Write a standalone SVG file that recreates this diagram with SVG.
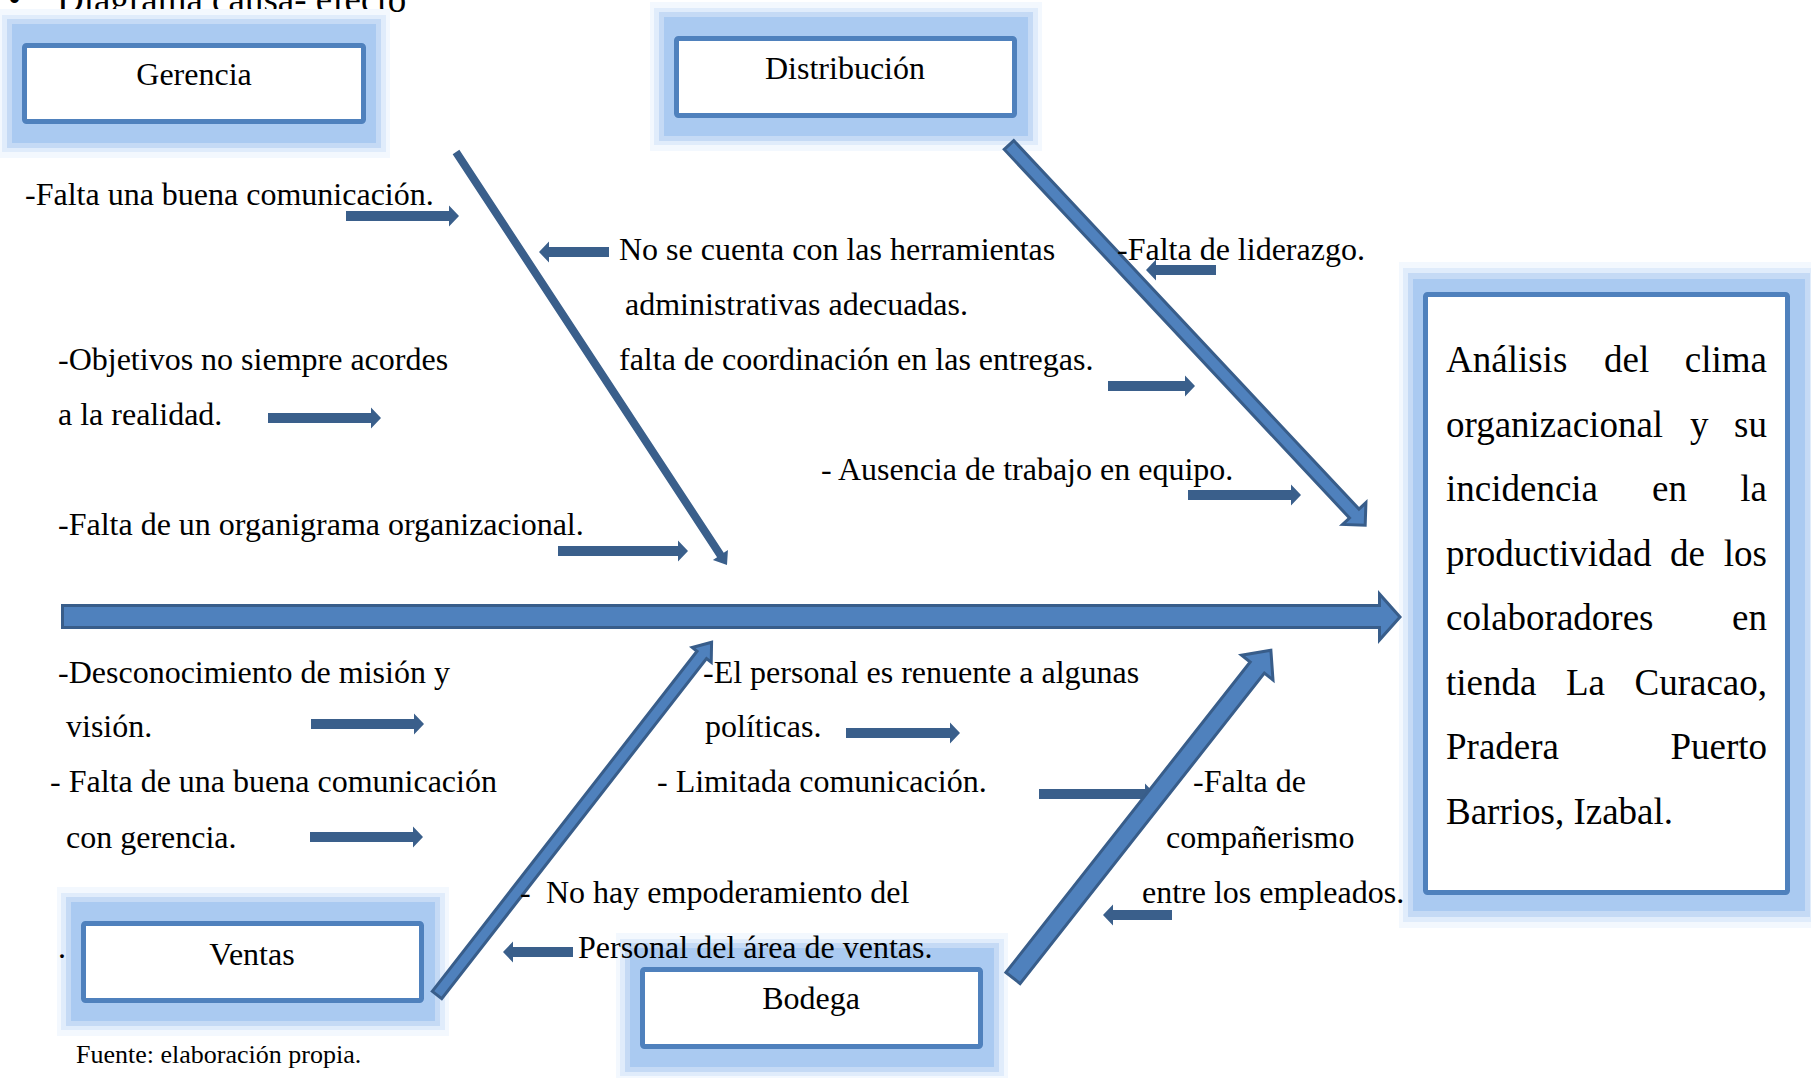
<svg xmlns="http://www.w3.org/2000/svg" width="1811" height="1078" viewBox="0 0 1811 1078">
<style>
  text { font-family: "Liberation Serif", "Times New Roman", serif; fill: #000; }
  .lbl { font-size: 32px; }
  .big { font-size: 37px; }
  .src { font-size: 26px; }
  .g1 { fill: #F3F8FE; }
  .g2 { fill: #E0ECFB; }
  .g3 { fill: #C5DAF5; }
  .g4 { fill: #AACAF1; }
  .box { fill: #FFFFFF; stroke: #4F81BD; stroke-width: 5; }
  .sa { fill: #3A5F8B; }
  .br { fill: #4F81BD; stroke: #385D8A; stroke-width: 3; stroke-linejoin: miter; }
  .thin { fill: #3A5F8B; }
</style>

<!-- title -->
<text class="big" x="8" y="12">•</text>
<text class="big" x="57" y="12">Diagrama causa- efecto</text>

<!-- nodes -->
<g id="gerencia">
  <rect class="g1" x="-2" y="9" width="392" height="149"/>
  <rect class="g2" x="2" y="15" width="384" height="137"/>
  <rect class="g3" x="7" y="19" width="374" height="129"/>
  <rect class="g4" x="12" y="24" width="364" height="119"/>
  <rect class="box" x="24.5" y="45.5" width="339" height="76" rx="2"/>
  <text class="lbl" x="194" y="85" text-anchor="middle">Gerencia</text>
</g>

<g id="distribucion">
  <rect class="g1" x="650" y="2" width="392" height="149"/>
  <rect class="g2" x="654" y="8" width="384" height="137"/>
  <rect class="g3" x="659" y="12" width="374" height="129"/>
  <rect class="g4" x="664" y="17" width="364" height="119"/>
  <rect class="box" x="676.5" y="38.5" width="338" height="77" rx="2"/>
  <text class="lbl" x="845" y="79" text-anchor="middle">Distribución</text>
</g>

<g id="ventas">
  <rect class="g1" x="57" y="887" width="392" height="149"/>
  <rect class="g2" x="61" y="893" width="384" height="137"/>
  <rect class="g3" x="66" y="897" width="374" height="129"/>
  <rect class="g4" x="71" y="902" width="364" height="119"/>
  <rect class="box" x="83.5" y="923.5" width="338" height="77" rx="2"/>
  <text class="lbl" x="252" y="965" text-anchor="middle">Ventas</text>
</g>

<g id="bodega">
  <rect class="g1" x="616" y="933" width="392" height="149"/>
  <rect class="g2" x="620" y="939" width="384" height="137"/>
  <rect class="g3" x="625" y="943" width="374" height="129"/>
  <rect class="g4" x="630" y="948" width="364" height="119"/>
  <rect class="box" x="642.5" y="969.5" width="338" height="77" rx="2"/>
  <text class="lbl" x="811" y="1009" text-anchor="middle">Bodega</text>
</g>

<g id="efecto">
  <rect class="g1" x="1399" y="262" width="420" height="666"/>
  <rect class="g2" x="1403" y="268" width="412" height="654"/>
  <rect class="g3" x="1408" y="273" width="402" height="644"/>
  <rect class="g4" x="1413" y="279" width="392" height="632"/>
  <rect class="box" x="1425.5" y="294.5" width="362" height="598" rx="2"/>
  <g class="big">
    <text x="1446" y="372">Análisis</text>
    <text x="1604" y="372">del</text>
    <text x="1767" y="372" text-anchor="end">clima</text>
    <text x="1446" y="436.5">organizacional</text>
    <text x="1690" y="436.5">y</text>
    <text x="1767" y="436.5" text-anchor="end">su</text>
    <text x="1446" y="501">incidencia</text>
    <text x="1652" y="501">en</text>
    <text x="1767" y="501" text-anchor="end">la</text>
    <text x="1446" y="565.5">productividad</text>
    <text x="1670" y="565.5">de</text>
    <text x="1767" y="565.5" text-anchor="end">los</text>
    <text x="1446" y="630">colaboradores</text>
    <text x="1767" y="630" text-anchor="end">en</text>
    <text x="1446" y="694.5">tienda</text>
    <text x="1566" y="694.5">La</text>
    <text x="1767" y="694.5" text-anchor="end">Curacao,</text>
    <text x="1446" y="759">Pradera</text>
    <text x="1767" y="759" text-anchor="end">Puerto</text>
    <text x="1446" y="823.5">Barrios, Izabal.</text>
  </g>
</g>

<!-- connectors -->
<g id="connectors">
  <!-- small cause arrows -->
  <path class="sa" d="M346,211 H449 V205.5 L459,216 L449,226.5 V221 H346 Z"/>
  <path class="sa" d="M609,247 H549 V241.5 L539,252 L549,262.5 V257 H609 Z"/>
  <path class="sa" d="M268,413 H371 V407.5 L381,418 L371,428.5 V423 H268 Z"/>
  <path class="sa" d="M558,546 H678 V540.5 L688,551 L678,561.5 V556 H558 Z"/>
  <path class="sa" d="M1216,265 H1156 V259.5 L1146,270 L1156,280.5 V275 H1216 Z"/>
  <path class="sa" d="M1108,381 H1185 V375.5 L1195,386 L1185,396.5 V391 H1108 Z"/>
  <path class="sa" d="M1188,490 H1291 V484.5 L1301,495 L1291,505.5 V500 H1188 Z"/>
  <path class="sa" d="M311,719 H414 V713.5 L424,724 L414,734.5 V729 H311 Z"/>
  <path class="sa" d="M310,832 H413 V826.5 L423,837 L413,847.5 V842 H310 Z"/>
  <path class="sa" d="M846,728 H950 V722.5 L960,733 L950,743.5 V738 H846 Z"/>
  <path class="sa" d="M1039,789 H1145 V783.5 L1155,794 L1145,804.5 V799 H1039 Z"/>
  <path class="sa" d="M1172,910 H1113 V904.5 L1103,915 L1113,925.5 V920 H1172 Z"/>
  <path class="sa" d="M573,947 H513 V941.5 L503,952 L513,962.5 V957 H573 Z"/>

  <!-- main spine -->
  <path class="br" stroke-width="5" d="M62.5,605.5 H1379.5 V594 L1400,617 L1379.5,640 V627.5 H62.5 Z"/>

  <!-- Gerencia branch (plain line) -->
  <g transform="translate(456,152) rotate(56.73)">
    <path class="thin" d="M0,-4 H482 V-9 L494,0 L482,9 V4 H0 Z"/>
  </g>

  <!-- Distribución branch -->
  <g transform="translate(1009,145) rotate(46.87)">
    <path class="br" d="M0,-6.5 H505 V-16 L521,0 L505,16 V6.5 H0 Z"/>
  </g>

  <!-- Ventas branch -->
  <g transform="translate(437,995) rotate(-52.1)">
    <path class="br" d="M0,-6 H431 V-12 L447,0 L431,12 V6 H0 Z"/>
  </g>

  <!-- Bodega branch -->
  <g transform="translate(1013,978) rotate(-51.8)">
    <path class="br" d="M0,-9 H395 V-20 L417,0 L395,20 V9 H0 Z"/>
  </g>
</g>

<!-- cause labels -->
<g id="labels" class="lbl">
  <text x="25" y="205">-Falta una buena comunicación.</text>
  <text x="619" y="260">No se cuenta con las herramientas</text>
  <text x="625" y="315">administrativas adecuadas.</text>
  <text x="619" y="370">falta de coordinación en las entregas.</text>
  <text x="1117" y="260">-Falta de liderazgo.</text>
  <text x="58" y="370">-Objetivos no siempre acordes</text>
  <text x="58" y="425">a la realidad.</text>
  <text x="821" y="480">- Ausencia de trabajo en equipo.</text>
  <text x="58" y="535">-Falta de un organigrama organizacional.</text>

  <text x="58" y="683">-Desconocimiento de misión y</text>
  <text x="66" y="737">visión.</text>
  <text x="50" y="792">- Falta de una buena comunicación</text>
  <text x="66" y="848">con gerencia.</text>
  <text x="703" y="683">-El personal es renuente a algunas</text>
  <text x="705" y="737">políticas.</text>
  <text x="657" y="792">- Limitada comunicación.</text>
  <text x="1193" y="792">-Falta de</text>
  <text x="1166" y="848">compañerismo</text>
  <text x="1142" y="903">entre los empleados.</text>
  <text x="520" y="903">-</text>
  <text x="546" y="903">No hay empoderamiento del</text>
  <text x="578" y="958">Personal del área de ventas.</text>
  <text x="58" y="958">.</text>
</g>

<text class="src" x="76" y="1063">Fuente: elaboración propia.</text>
</svg>
